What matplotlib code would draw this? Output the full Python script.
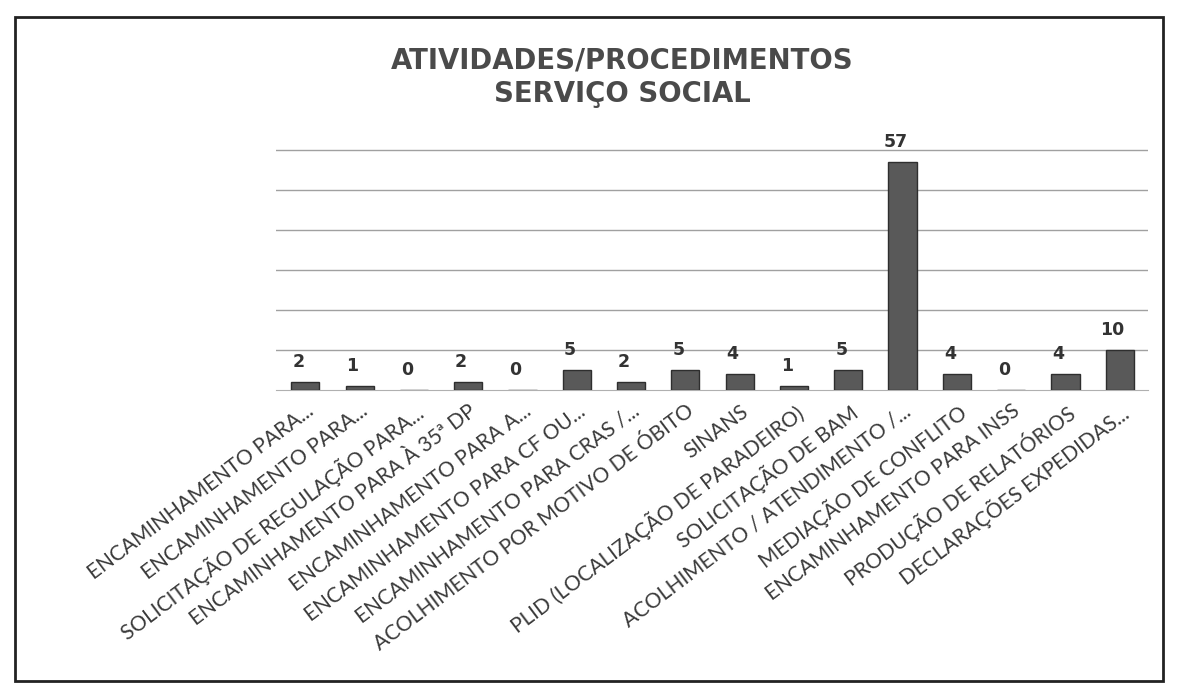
import matplotlib.pyplot as plt
from matplotlib.patches import Rectangle
import numpy as np

# Atividades do serviço social e totais do período
atividades = [
    'ENCAMINHAMENTO PARA...',
    'ENCAMINHAMENTO PARA...',
    'SOLICITAÇÃO DE REGULAÇÃO PARA...',
    'ENCAMINHAMENTO PARA À 35ª DP',
    'ENCAMINHAMENTO PARA A...',
    'ENCAMINHAMENTO PARA CF OU...',
    'ENCAMINHAMENTO PARA CRAS /...',
    'ACOLHIMENTO POR MOTIVO DE ÓBITO',
    'SINANS',
    'PLID (LOCALIZAÇÃO DE PARADEIRO)',
    'SOLICITAÇÃO DE BAM',
    'ACOLHIMENTO / ATENDIMENTO /...',
    'MEDIAÇÃO DE CONFLITO',
    'ENCAMINHAMENTO PARA INSS',
    'PRODUÇÃO DE RELATÓRIOS',
    'DECLARAÇÕES EXPEDIDAS...',
]
totais = [2, 1, 0, 2, 0, 5, 2, 5, 4, 1, 5, 57, 4, 0, 4, 10]

plt.rcParams['font.family'] = ['Lato', 'DejaVu Sans']

fig = plt.figure(figsize=(11.81, 6.95), dpi=100)
ax = fig.add_axes([0.234, 0.439, 0.738, 0.357])

x = np.arange(len(totais))
ax.bar(x, totais, width=0.52, color='#595959', edgecolor='#2e2e2e',
       linewidth=1, zorder=3)

for xi, v in zip(x, totais):
    ax.text(xi - 0.13, v + 2.6, str(v), ha='center', va='bottom',
            fontsize=12.5, fontweight='bold', color='#333333',
            family='DejaVu Sans')

ax.set_ylim(0, 62)
ax.set_xlim(-0.534, 15.52)
ax.set_yticks([10, 20, 30, 40, 50, 60])
ax.yaxis.grid(True, color='#a0a0a0', linewidth=1)
ax.set_axisbelow(True)
ax.tick_params(axis='y', length=0, labelleft=False)
ax.tick_params(axis='x', length=0, pad=8)
ax.set_xticks(x)
ax.set_xticklabels(atividades, rotation=37, ha='right', rotation_mode='anchor',
                   fontsize=15, color='#3a3a3a')
for lado in ['top', 'right', 'left']:
    ax.spines[lado].set_visible(False)
ax.spines['bottom'].set_color('#b0b0b0')

fig.text(0.527, 0.889, 'ATIVIDADES/PROCEDIMENTOS\nSERVIÇO SOCIAL', ha='center',
         va='center', fontsize=19.8, fontweight='bold', color='#4a4a4a',
         family='DejaVu Sans', linespacing=1.22)

# moldura do gráfico
fig.patches.append(Rectangle((0.013, 0.02), 0.972, 0.955, transform=fig.transFigure,
                             fill=False, edgecolor='#222222', linewidth=2))

fig.savefig('out.png', dpi=100)
